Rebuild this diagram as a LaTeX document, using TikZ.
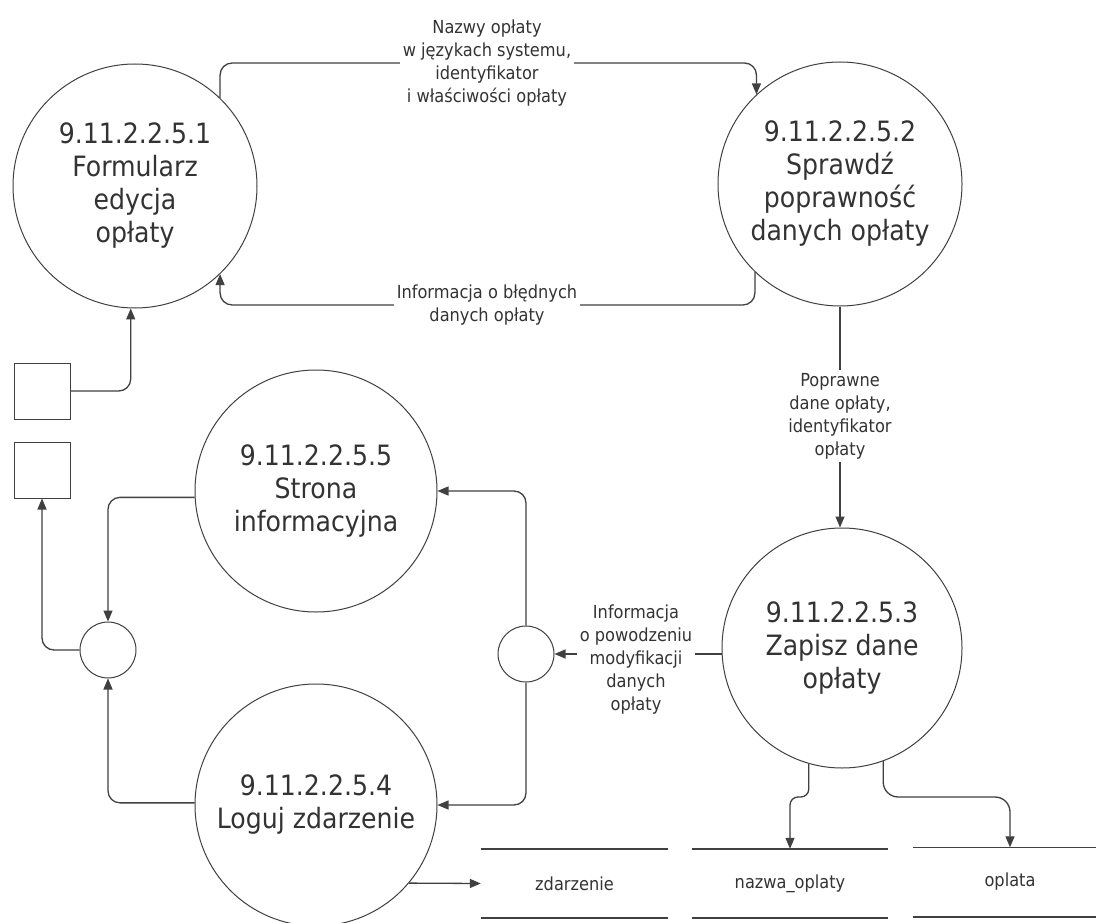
\documentclass[tikz,border=0pt]{standalone}
\usepackage{fontspec}
\setmainfont[FakeStretch=0.9]{DejaVu Sans}
\usetikzlibrary{arrows.meta}
\definecolor{ink}{HTML}{333333}
\definecolor{linec}{HTML}{404040}
\begin{document}
\begin{tikzpicture}[x=1pt,y=-1pt,
  proc/.style={circle,draw=linec,line width=1pt,minimum size=244pt,inner sep=0pt,align=center,text=ink,font=\fontsize{28}{33}\selectfont},
  junc/.style={circle,draw=linec,line width=1pt,minimum size=56pt,inner sep=0pt},
  ext/.style={rectangle,draw=linec,line width=1pt,minimum size=56pt,inner sep=0pt},
  store/.style={inner sep=0pt,minimum height=69pt,text=ink,font=\fontsize{18}{23}\selectfont},
  lbl/.style={fill=white,inner sep=3pt,align=center,text=ink,font=\fontsize{18}{23}\selectfont},
  flow/.style={draw=linec,line width=1.3pt,-{Triangle[length=11pt,width=9pt]},rounded corners=12pt},
  sline/.style={draw=linec,line width=1.6pt}]
\path[use as bounding box,fill=white] (0,0) rectangle (1096,923);

% processes
\node[proc] (c1) at (135,186) {9.11.2.2.5.1\\Formularz\\edycja\\opłaty};
\node[proc] (c2) at (840,184) {9.11.2.2.5.2\\Sprawdź\\poprawność\\danych opłaty};
\node[proc,minimum size=240pt] (c3) at (842,648) {9.11.2.2.5.3\\Zapisz dane\\opłaty};
\node[proc,minimum size=242pt] (c5) at (316,491) {9.11.2.2.5.5\\Strona\\informacyjna};
\node[proc,minimum size=242pt] (c4) at (316,805) {9.11.2.2.5.4\\Loguj zdarzenie};

% junctions and external entities
\node[junc] (j1) at (108,650) {};
\node[junc] (j2) at (526,654) {};
\node[ext] (e1) at (42,391) {};
\node[ext] (e2) at (42,470) {};

% data stores
\node[store,minimum width=187pt] (s1) at (574.5,883.5) {zdarzenie};
\node[store,minimum width=196pt] (s2) at (790,883.5) {nazwa\_oplaty};
\node[store,minimum width=194pt] (s3) at (1010,882) {oplata};
\foreach \s in {s1,s2,s3}{
  \draw[sline] (\s.north west) -- (\s.north east);
  \draw[sline] (\s.south west) -- (\s.south east);
}

\coordinate (ytop) at (0,63);
\coordinate (ybot) at (0,305);
\coordinate (ymid) at (0,797);

% flows
\draw[flow] (c1.46) -- (c1.46 |- ytop) -- (c2.133 |- ytop) -- (c2.133);
\node[lbl] (l1) at (487,63) {Nazwy opłaty\\w językach systemu,\\identyfikator\\i właściwości opłaty};

\draw[flow] (c2.226) -- (c2.226 |- ybot) -- (c1.-46 |- ybot) -- (c1.-46);
\node[lbl] (l2) at (487,305) {Informacja o błędnych\\danych opłaty};

\draw[flow] (c2.south) -- (c2.south |- c3.north);
\node[lbl] (l3) at (840,416) {Poprawne\\dane opłaty,\\identyfikator\\opłaty};

\draw[flow] (e1.east) -| (c1.268);
\draw[flow] (j1.west) -| (e2.south);
\draw[flow] (c5.183) -| (j1.north);
\draw[flow] (c4.179) -| (j1.south);
\draw[flow] (j2.north) |- (c5.east);
\draw[flow] (j2.south) |- (c4.east);

\draw[flow] (c3.west |- j2.east) -- (j2.east);
\node[lbl] (l4) at (636,660) {Informacja\\o powodzeniu\\modyfikacji\\danych\\opłaty};

\draw[flow,rounded corners=8pt] (c3.-106) -- (c3.-106 |- ymid) -| (s2.north);
\draw[flow,rounded corners=15pt] (c3.-70) -- (c3.-70 |- ymid) -| (s3.north);
\draw[flow] (c4.-40) -- (s1.west);
\end{tikzpicture}
\end{document}
